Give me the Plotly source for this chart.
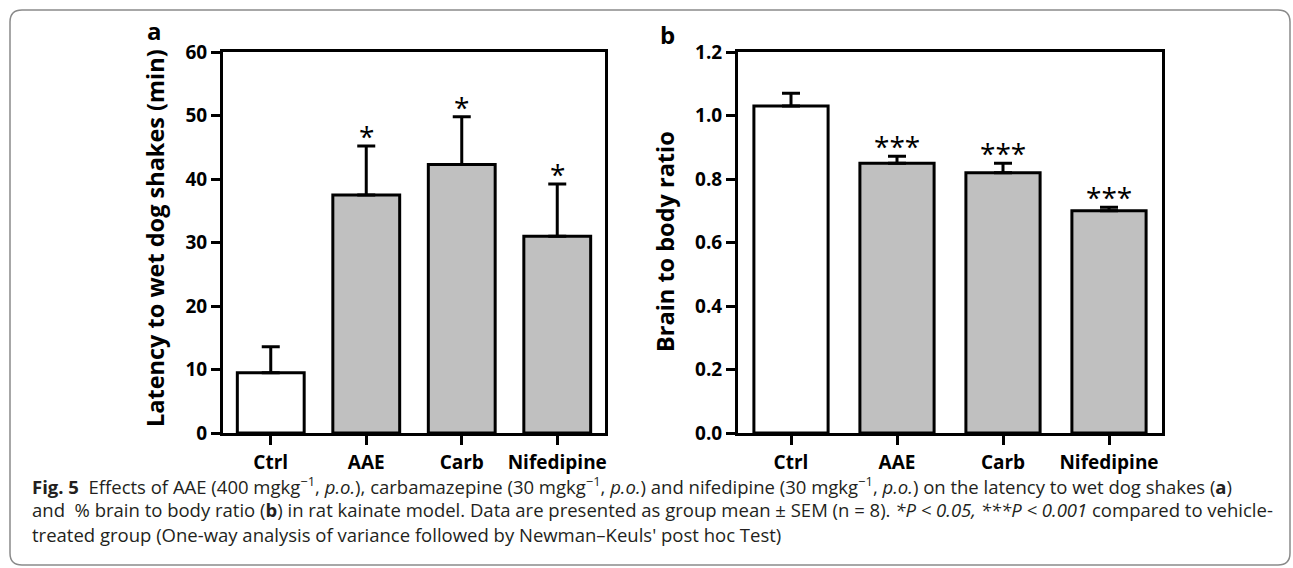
import plotly.graph_objects as go

# ---- data ----
categories = ["Ctrl", "AAE", "Carb", "Nifedipine"]
latency_mean = [9.5, 37.5, 42.3, 31.0]
latency_sem = [4.1, 7.7, 7.5, 8.2]
latency_sig = ["", "*", "*", "*"]
ratio_mean = [1.03, 0.85, 0.82, 0.70]
ratio_sem = [0.04, 0.022, 0.03, 0.011]
ratio_sig = ["", "***", "***", "***"]
bar_colors = ["white", "#c0c0c0", "#c0c0c0", "#c0c0c0"]
latency_ticks = [0, 10, 20, 30, 40, 50, 60]
ratio_ticks = [0.0, 0.2, 0.4, 0.6, 0.8, 1.0, 1.2]

W, H = 1293, 568
FONT = "Open Sans, Lato, DejaVu Sans, sans-serif"

def px_x(x):
    return x / W

def px_y(y):
    return 1 - y / H

fig = go.Figure()

for means, sems, xa, ya in [
    (latency_mean, latency_sem, "x", "y"),
    (ratio_mean, ratio_sem, "x2", "y2"),
]:
    fig.add_trace(go.Bar(
        x=categories, y=means, xaxis=xa, yaxis=ya,
        width=0.7,
        marker=dict(color=bar_colors, line=dict(color="black", width=3)),
        error_y=dict(type="data", array=sems, arrayminus=[0] * len(sems),
                     symmetric=False, color="black", thickness=3, width=9),
        showlegend=False, hoverinfo="x+y",
    ))

annotations = []
for cat, m, s, sig in zip(categories, latency_mean, latency_sem, latency_sig):
    if sig:
        annotations.append(dict(x=cat, y=m + s, xref="x", yref="y", text=sig,
                                showarrow=False, xanchor="center", yanchor="bottom", yshift=-11,
                                font=dict(family=FONT, size=28, color="black")))
for cat, m, s, sig in zip(categories, ratio_mean, ratio_sem, ratio_sig):
    if sig:
        annotations.append(dict(x=cat, y=m + s, xref="x2", yref="y2", text=sig,
                                showarrow=False, xanchor="center", yanchor="bottom", yshift=-11,
                                font=dict(family=FONT, size=28, color="black")))

# axis titles
annotations.append(dict(x=px_x(155), y=px_y(238), xref="paper", yref="paper",
                        xanchor="center", yanchor="middle",
                        text="<b>Latency to wet dog shakes (min)</b>", textangle=-90,
                        showarrow=False, font=dict(family=FONT, size=23.5, color="black")))
annotations.append(dict(x=px_x(665), y=px_y(242), xref="paper", yref="paper",
                        xanchor="center", yanchor="middle",
                        text="<b>Brain to body ratio</b>", textangle=-90,
                        showarrow=False, font=dict(family=FONT, size=23.5, color="black")))

# panel letters
annotations.append(dict(x=px_x(154), y=px_y(31), xref="paper", yref="paper", text="<b>a</b>",
                        xanchor="center", yanchor="middle",
                        showarrow=False, font=dict(family=FONT, size=24, color="black")))
annotations.append(dict(x=px_x(667), y=px_y(35), xref="paper", yref="paper", text="<b>b</b>",
                        xanchor="center", yanchor="middle",
                        showarrow=False, font=dict(family=FONT, size=24, color="black")))

# caption
cap_font = dict(family="Open Sans, sans-serif", size=18.5, color="#231f20")
caption_lines = [
    "<b>Fig. 5</b>  Effects of AAE (400 mgkg<sup>−1</sup>, <i>p.o.</i>), carbamazepine (30 mgkg<sup>−1</sup>, <i>p.o.</i>) "
    "and nifedipine (30 mgkg<sup>−1</sup>, <i>p.o.</i>) on the latency to wet dog shakes (<b>a</b>)",
    "and  % brain to body ratio (<b>b</b>) in rat kainate model. Data are presented as group mean ± SEM (n = 8). "
    "<i>*P &lt; 0.05, ***P &lt; 0.001</i> compared to vehicle-",
    "treated group (One-way analysis of variance followed by Newman–Keuls' post hoc Test)",
]
for k, line in enumerate(caption_lines):
    annotations.append(dict(x=px_x(30), y=px_y(485 + 24.5 * k), xref="paper", yref="paper",
                            text=line, showarrow=False, xanchor="left", yanchor="middle",
                            align="left", font=cap_font))

axis_common = dict(showline=True, linecolor="black", linewidth=3, mirror=True,
                   ticks="outside", ticklen=9, tickwidth=3, tickcolor="black",
                   showgrid=False, zeroline=False, automargin=False,
                   tickfont=dict(family=FONT, size=19, color="black", weight="bold"))

x_dom_a = [px_x(223), px_x(605)]
x_dom_b = [px_x(738), px_x(1162)]
y_dom = [px_y(433), px_y(52)]

fig.update_layout(
    width=W, height=H, margin=dict(l=0, r=0, t=0, b=0, pad=0, autoexpand=False),
    paper_bgcolor="white", plot_bgcolor="white",
    xaxis=dict(domain=x_dom_a, anchor="y", range=[-0.5, 3.5], ticklabelstandoff=1, **axis_common),
    yaxis=dict(domain=y_dom, anchor="x", range=[0, 60], tickvals=latency_ticks, **axis_common),
    xaxis2=dict(domain=x_dom_b, anchor="y2", range=[-0.5, 3.5], ticklabelstandoff=1, **axis_common),
    yaxis2=dict(domain=y_dom, anchor="x2", range=[0, 1.2], tickvals=ratio_ticks,
                tickformat=".1f", **axis_common),
    annotations=annotations,
    bargap=0.3,
)

# figure border (rounded rectangle), defined in pixels then converted to paper coords
x0, y0, x1, y1, r = 10, 10, 1290, 565, 12
path = (f"M {x0 + r},{y0} L {x1 - r},{y0} Q {x1},{y0} {x1},{y0 + r} "
        f"L {x1},{y1 - r} Q {x1},{y1} {x1 - r},{y1} L {x0 + r},{y1} "
        f"Q {x0},{y1} {x0},{y1 - r} L {x0},{y0 + r} Q {x0},{y0} {x0 + r},{y0} Z")

def conv(p):
    out = []
    for tok in p.split(" "):
        if "," in tok:
            a, b = tok.split(",")
            out.append(f"{float(a) / W:.5f},{1 - float(b) / H:.5f}")
        else:
            out.append(tok)
    return " ".join(out)

fig.add_shape(type="path", path=conv(path), xref="paper", yref="paper",
              line=dict(color="#8a8a8a", width=1.5), fillcolor="rgba(0,0,0,0)", layer="below")

fig.write_html("out.html", config={"displayModeBar": False},
               post_script="document.body.style.margin='0';document.body.style.overflow='hidden';")
